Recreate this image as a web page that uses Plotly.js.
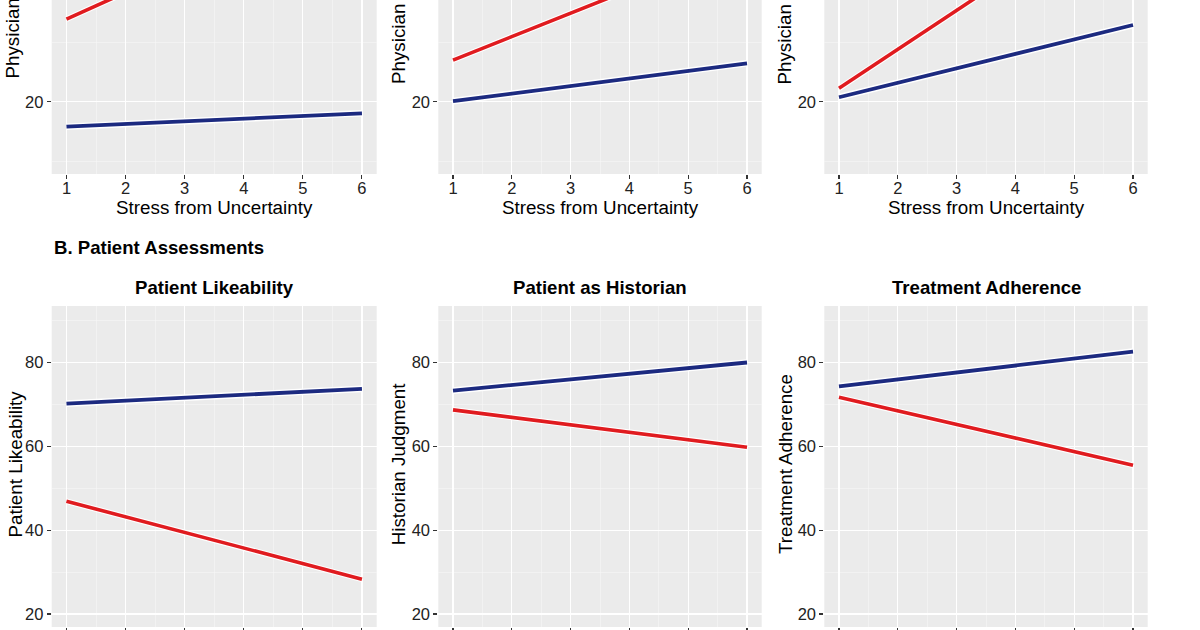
<!DOCTYPE html>
<html>
<head>
<meta charset="utf-8">
<script src="https://cdn.plot.ly/plotly-3.0.1.min.js"></script>
<style>
  html, body { margin: 0; padding: 0; background: #ffffff; }
  #chart { width: 1200px; height: 630px; }
</style>
</head>
<body>
<div id="chart"></div>
<script>
// Stress-from-uncertainty scores at the ends of each fitted line
const stressLevels = [1, 6];
const stressTicks = [1, 2, 3, 4, 5, 6];

// Upper row: physician reactions
const phys1Red  = [33.9, 56.2];
const phys1Blue = [15.8, 18.05];
const phys2Red  = [27.0, 46.7];
const phys2Blue = [20.1, 26.45];
const phys3Red  = [22.25, 55.0];
const phys3Blue = [20.75, 32.9];

// Lower row: patient assessments
const likeRed       = [46.9, 28.3];
const likeBlue      = [70.2, 73.7];
const historianRed  = [68.7, 59.8];
const historianBlue = [73.3, 80.0];
const adherenceRed  = [71.7, 55.5];
const adherenceBlue = [74.3, 82.6];

const upperTicks = [20, 40, 60];
const lowerTicks = [20, 40, 60, 80];

const sectionTitle = 'B. Patient Assessments';
const panelTitles = ['Patient Likeability', 'Patient as Historian', 'Treatment Adherence'];
const lowerYTitles = ['Patient Likeability', 'Historian Judgment', 'Treatment Adherence'];
const upperYTitle = 'Physician';
const xTitle = 'Stress from Uncertainty';

const RED = '#e01b1f';
const BLUE = '#1c2a80';
const FONT = 'Liberation Sans, Arial, Helvetica, sans-serif';

const W = 1200, H = 630;
const fx = p => p / W;
const fy = p => 1 - p / H;

// panel edges in pixels
const cols = [[51.7, 376.7], [438.3, 761.7], [824.3, 1147.7]];
const upperDomainY = [fy(174), 1];
const lowerDomainY = [fy(627), fy(306)];

const upperSeries = [[phys1Red, phys1Blue], [phys2Red, phys2Blue], [phys3Red, phys3Blue]];
const lowerSeries = [[likeRed, likeBlue], [historianRed, historianBlue], [adherenceRed, adherenceBlue]];

const traces = [];
function addPair(pair, axisIdx) {
  const xa = 'x' + (axisIdx === 1 ? '' : axisIdx);
  const ya = 'y' + (axisIdx === 1 ? '' : axisIdx);
  const [redVals, blueVals] = pair;
  [[redVals, RED, 3.6, 5.8], [blueVals, BLUE, 3.8, 6.6]].forEach(([vals, color, w, hw]) => {
    traces.push({ x: stressLevels, y: vals, xaxis: xa, yaxis: ya, mode: 'lines',
      line: { color: '#ffffff', width: hw }, hoverinfo: 'skip', showlegend: false });
    traces.push({ x: stressLevels, y: vals, xaxis: xa, yaxis: ya, mode: 'lines',
      line: { color: color, width: w }, showlegend: false });
  });
}
upperSeries.forEach((p, i) => addPair(p, i + 1));
lowerSeries.forEach((p, i) => addPair(p, i + 4));

const layout = {
  width: W, height: H,
  margin: { l: 0, r: 0, t: 0, b: 0 },
  paper_bgcolor: '#ffffff',
  plot_bgcolor: '#ebebeb',
  font: { family: FONT, color: '#000000' },
  showlegend: false,
  annotations: []
};

function xAxis(col, lowerRow) {
  return {
    domain: [fx(cols[col][0]), fx(cols[col][1])],
    range: [0.75, 6.25],
    tickvals: stressTicks,
    ticks: 'outside', ticklen: 4, tickwidth: 1.1, tickcolor: '#333333',
    showticklabels: !lowerRow,
    ticklabelstandoff: -5,
    tickfont: { family: FONT, size: 16.5, color: '#222222' },
    showgrid: true, gridcolor: '#ffffff', gridwidth: 1.2,
    minor: { dtick: 0.5, tick0: 1, showgrid: true, gridcolor: '#f6f6f6', gridwidth: 0.6, ticks: '' },
    zeroline: false, showline: false, fixedrange: true,
    title: lowerRow ? { text: '' } : { text: xTitle, font: { family: FONT, size: 18.8, color: '#000000' }, standoff: 4 }
  };
}
function yAxis(domain, range, ticks, anchor) {
  return {
    domain: domain, range: range, anchor: anchor,
    tickvals: ticks,
    ticks: 'outside', ticklen: 4, tickwidth: 1.1, tickcolor: '#333333',
    tickfont: { family: FONT, size: 16.5, color: '#222222' },
    showgrid: true, gridcolor: '#ffffff', gridwidth: 1.2,
    minor: { dtick: 10, tick0: 0, showgrid: true, gridcolor: '#f6f6f6', gridwidth: 0.6, ticks: '' },
    zeroline: false, showline: false, fixedrange: true
  };
}

for (let c = 0; c < 3; c++) {
  const up = c + 1, lo = c + 4;
  const upKey = up === 1 ? '' : up;
  layout['xaxis' + upKey] = Object.assign(xAxis(c, false), { anchor: 'y' + upKey });
  layout['yaxis' + upKey] = yAxis(upperDomainY, [7.85, 37.1], upperTicks, 'x' + upKey);
  layout['xaxis' + lo] = Object.assign(xAxis(c, true), { anchor: 'y' + lo });
  layout['yaxis' + lo] = yAxis(lowerDomainY, [16.9, 93.48], lowerTicks, 'x' + lo);
}

// Section heading
layout.annotations.push({
  text: '<b>' + sectionTitle + '</b>', xref: 'paper', yref: 'paper',
  x: fx(52), y: fy(248), xanchor: 'left', yanchor: 'middle', showarrow: false,
  font: { family: FONT, size: 18.6, color: '#000000' }
});
// Panel titles over the lower row
panelTitles.forEach((t, i) => {
  layout.annotations.push({
    text: '<b>' + t + '</b>', xref: 'paper', yref: 'paper',
    x: fx((cols[i][0] + cols[i][1]) / 2), y: fy(288), xanchor: 'center', yanchor: 'middle',
    showarrow: false, font: { family: FONT, size: 18.6, color: '#000000' }
  });
});
// Lower row y titles
const lowerTitleX = [14.5, 398.3, 785];
lowerYTitles.forEach((t, i) => {
  layout.annotations.push({
    text: t, xref: 'paper', yref: 'paper', textangle: -90,
    x: fx(lowerTitleX[i]), y: fy(464), xanchor: 'center', yanchor: 'middle',
    showarrow: false, font: { family: FONT, size: 18.8, color: '#000000' }
  });
});
// Upper row y titles
const upperTitleX = [12.5, 399, 784.5];
const upperTitleBottom = [81, 86, 87];
upperTitleX.forEach((x, i) => {
  layout.annotations.push({
    text: upperYTitle, xref: 'paper', yref: 'paper', textangle: -90,
    x: fx(x), y: fy(upperTitleBottom[i]), xanchor: 'center', yanchor: 'bottom',
    showarrow: false, font: { family: FONT, size: 18.8, color: '#000000' }
  });
});

Plotly.newPlot('chart', traces, layout, { staticPlot: true, displayModeBar: false });
</script>
</body>
</html>
